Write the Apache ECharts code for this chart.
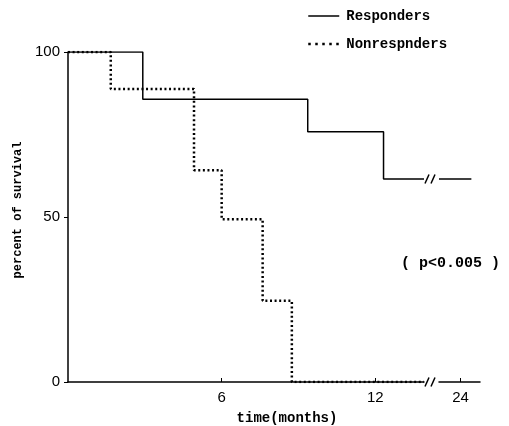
<!DOCTYPE html>
<html><head><meta charset="utf-8">
<script src="https://cdn.jsdelivr.net/npm/echarts@6/dist/echarts.min.js"></script>
<style>html,body{margin:0;padding:0;background:#fff}#c{width:509px;height:426px}</style>
</head><body><div id="c"></div>
<script>
// Data
const respMonths = [0, 2.92, 9.36, 12.32, 13.9];
const respSurvival = [100, 85.7, 75.8, 61.5, 61.5];
const respAfterBreakMonths = [23, 24.5];
const respAfterBreakSurvival = [61.5, 61.5];
const nonMonths = [0, 1.67, 4.92, 6.0, 7.6, 8.74, 13.9];
const nonSurvival = [100, 88.8, 64.2, 49.3, 24.6, 0, 0];
const xTicksLeft = [6, 12];
const xTicksRight = [24];
const yTicks = [0, 50, 100];
const seriesNames = ['Responders', 'Nonrespnders'];

const zip = (a, b) => a.map((v, i) => [v, b[i]]);
const mono = '"Liberation Mono", "DejaVu Sans Mono", monospace';
const sans = '"Liberation Sans", Arial, sans-serif';

const chart = echarts.init(document.getElementById('c'), null, {renderer: 'canvas'});
const axisLine = {show: true, lineStyle: {color: '#000', width: 1.5}};
const dotted = {color: '#000', width: 2.5, type: [2, 2.6], cap: 'butt'};

chart.setOption({
  animation: false,
  backgroundColor: '#fff',
  grid: [
    {left: 68, top: 52, width: 356, height: 330},
    {left: 439, top: 52, width: 41, height: 330}
  ],
  xAxis: [
    {gridIndex: 0, type: 'value', min: 0, max: 13.9, axisLine,
     splitLine: {show: false},
     axisTick: {show: true, inside: true, length: 4, customValues: xTicksLeft, lineStyle: {color: '#000', width: 1}},
     axisLabel: {customValues: xTicksLeft, color: '#000', fontFamily: sans, fontSize: 15, margin: 8}},
    {gridIndex: 1, type: 'value', min: 23, max: 24.9, axisLine,
     splitLine: {show: false},
     axisTick: {show: true, inside: true, length: 4, customValues: xTicksRight, lineStyle: {color: '#000', width: 1}},
     axisLabel: {customValues: xTicksRight, color: '#000', fontFamily: sans, fontSize: 15, margin: 8}}
  ],
  yAxis: [
    {gridIndex: 0, type: 'value', min: 0, max: 100, interval: 50, axisLine,
     splitLine: {show: false},
     axisTick: {show: true, length: 4, customValues: yTicks, lineStyle: {color: '#000', width: 1}},
     axisLabel: {customValues: yTicks, color: '#000', fontFamily: sans, fontSize: 15, margin: 8}},
    {gridIndex: 1, type: 'value', min: 0, max: 100, show: false}
  ],
  legend: {
    orient: 'vertical', left: 302, top: 4, itemWidth: 31, itemHeight: 14, itemGap: 14,
    textStyle: {color: '#000', fontFamily: mono, fontWeight: 'bold', fontSize: 14, padding: [0, 0, 0, 2]},
    data: [
      {name: seriesNames[0], itemStyle: {opacity: 0}, lineStyle: {color: '#000', width: 1.5, type: 'solid'}},
      {name: seriesNames[1], itemStyle: {opacity: 0}, lineStyle: {color: '#000', width: 2.5, type: [2.5, 4.5]}}
    ]
  },
  series: [
    {name: seriesNames[1], type: 'line', xAxisIndex: 0, yAxisIndex: 0, step: 'end', symbol: 'none',
     data: zip(nonMonths, nonSurvival), lineStyle: dotted, itemStyle: {color: '#000'}, z: 2},
    {name: seriesNames[0], type: 'line', xAxisIndex: 0, yAxisIndex: 0, step: 'end', symbol: 'none',
     data: zip(respMonths, respSurvival), lineStyle: {color: '#000', width: 1.5}, itemStyle: {color: '#000'}, z: 3},
    {name: seriesNames[0], type: 'line', xAxisIndex: 1, yAxisIndex: 1, symbol: 'none',
     data: zip(respAfterBreakMonths, respAfterBreakSurvival), lineStyle: {color: '#000', width: 1.5}, itemStyle: {color: '#000'}, z: 3}
  ]
});

// break marks "//" between the two grids, at the axis and at the responders line
const breakYs = [
  chart.convertToPixel({yAxisIndex: 0}, respSurvival[respSurvival.length - 1]),
  chart.convertToPixel({yAxisIndex: 0}, 0)
];
const marks = [];
breakYs.forEach(y => {
  [425, 431].forEach(x => {
    marks.push({type: 'line', shape: {x1: x, y1: y + 4.5, x2: x + 4, y2: y - 4.5},
      style: {stroke: '#000', lineWidth: 1.5}, z: 10});
  });
});
marks.push({type: 'text', x: 287, y: 418, style: {text: 'time(months)', fill: '#000',
  font: 'bold 14px ' + mono, align: 'center', verticalAlign: 'middle'}, z: 10});
marks.push({type: 'text', x: 18, y: 210, rotation: Math.PI / 2, style: {text: 'percent of survival', fill: '#000',
  font: 'bold 12px ' + mono, align: 'center', verticalAlign: 'middle'}, z: 10});
marks.push({type: 'text', x: 401, y: 263, style: {text: '( p<0.005 )', fill: '#000',
  font: 'bold 15px ' + mono, verticalAlign: 'middle'}, z: 10});
chart.setOption({graphic: marks});
</script></body></html>
